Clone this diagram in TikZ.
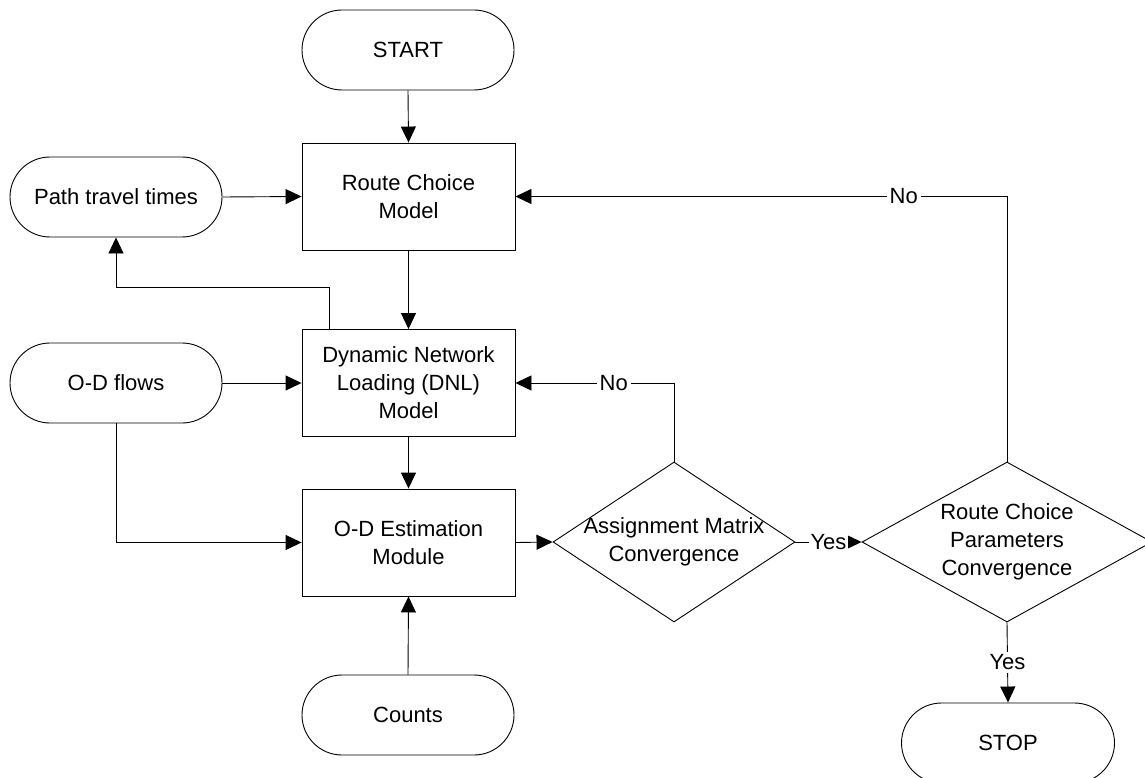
\documentclass[tikz,border=0pt]{standalone}
\usepackage{fontspec}
\setmainfont{Liberation Sans}
\usetikzlibrary{arrows.meta,shapes.geometric,calc}
\begin{document}
\begin{tikzpicture}[x=1pt,y=-1pt,
  every node/.style={font=\fontsize{22}{28}\selectfont, align=center},
  stadium/.style={draw, line width=0.9pt, rounded corners=40pt, minimum width=212pt, minimum height=80pt, inner sep=0pt},
  procbox/.style={draw, line width=0.9pt, minimum width=213pt, minimum height=107pt, inner sep=0pt},
  dia/.style={draw, line width=0.9pt, shape=diamond, inner sep=0pt},
  arr/.style={draw, line width=0.9pt, -{Triangle[length=16pt,width=15pt]}},
  ln/.style={draw, line width=0.9pt},
  lbl/.style={fill=white, inner sep=3pt}
]
\useasboundingbox (0,0) rectangle (1145,778);
\node[stadium] (start) at (408,50) {START};
\node[procbox] (rc) at (408.5,196.5) {Route Choice\\Model};
\node[stadium] (ptt) at (116,197) {Path travel times};
\node[procbox] (dnl) at (408.5,383) {Dynamic Network\\Loading (DNL)\\Model};
\node[stadium] (odf) at (116,383) {O-D flows};
\node[procbox] (ode) at (408.5,542.5) {O-D Estimation\\Module};
\node[stadium] (counts) at (408,715) {Counts};
\node[dia, minimum width=242pt, minimum height=160pt] (d1) at (674,542) {};
\node at (d1) {Assignment Matrix\\Convergence};
\node[dia, minimum width=290pt, minimum height=160pt] (d2) at (1007,542) {};
\node at (d2) {Route Choice\\Parameters\\Convergence};
\node[stadium, minimum width=213pt] (stop) at (1008,743) {STOP};

\draw[arr] (start.south) -- (rc.north);
\draw[arr] (ptt.east) -- (rc.west);
\draw[arr] (rc.south) -- (dnl.north);
\draw[arr] ([xshift=28pt]dnl.north west) -- ++(0,-42) -| (ptt.south);
\draw[arr] (odf.east) -- (dnl.west);
\draw[arr] (odf.south) |- (ode.west);
\draw[arr] (dnl.south) -- (ode.north);
\draw[arr] (counts.north) -- (ode.south);
\draw[arr] (ode.east) -- (d1.west);
\draw[arr] (d1.north) |- node[lbl, pos=0.69] {No} (dnl.east);
\draw[arr] (d2.north) |- node[lbl, pos=0.605] {No} (rc.east);
\draw[arr] (d1.east) -- node[lbl, inner sep=2pt] {Yes} (d2.west);
\draw[arr] (d2.south) -- node[lbl] {Yes} (stop.north);
\end{tikzpicture}
\end{document}
